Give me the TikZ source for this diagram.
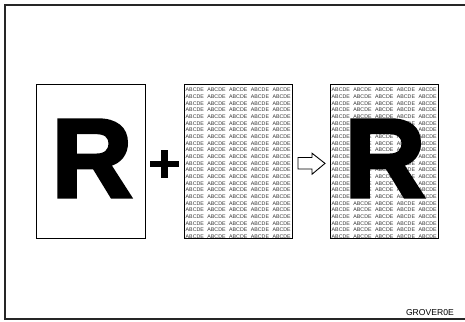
\documentclass[tikz,border=0pt]{standalone}
\usepackage{fontspec}
\setmainfont{Liberation Sans}
\newfontface\heavyR{Liberation Sans Bold}[RawFeature={embolden=3}]
\begin{document}
\begin{tikzpicture}[x=1pt,y=-1pt,
  frame/.style={line width=1.3pt,draw=black!85},
  page/.style={draw=black,line width=0.9pt},
  word/.style={anchor=west,inner sep=0pt,font=\fontsize{5.3}{5.3}\selectfont,text=black!80},
  bigR/.style={anchor=base,inner sep=0pt,font=\fontsize{112}{112}\heavyR},
  hollow/.style={draw=black,line width=0.9pt,fill=white}]
\useasboundingbox (0,0) rectangle (465,321);
\fill[white] (0,0) rectangle (465,321);
% outer frame
\draw[frame] (466,5) -- (5,5) -- (5,319) -- (466,319);
% left page with R
\node[page,minimum width=109pt,minimum height=154pt,anchor=north west,inner sep=0pt] (pageA) at (36,84) {};
\node[bigR] (RA) at (92,197) {R};
% plus sign
\fill (150,160.5) rectangle (179,167);
\fill (161,150) rectangle (167.5,178);
\coordinate (plus) at (164.3,163.8);
% middle page with text
\begin{scope}
\clip (184,84) rectangle (292,238);
\foreach \r in {0,...,22}{
  \foreach \c in {0,...,4}{
    \node[word] (wb-\r-\c) at (185.5+21.7*\c,90+6.67*\r) {ABCDE};
  }
}
\end{scope}
\node[page,minimum width=108pt,minimum height=154pt,anchor=north west,inner sep=0pt] (pageB) at (184,84) {};
% hollow arrow
\draw[hollow] (298,157.5) -- (312,157.5) -- (312,153.2) -- (325,163.4) -- (312,174.2) -- (312,169) -- (298,169) -- cycle;
% right page: text with R on top
\begin{scope}
\clip (330,84) rectangle (438,238);
\foreach \r in {0,...,22}{
  \foreach \c in {0,...,4}{
    \node[word] (wc-\r-\c) at (331.5+21.7*\c,90+6.67*\r) {ABCDE};
  }
}
\end{scope}
\node[bigR] (RC) at (385,197) {R};
\node[page,minimum width=108pt,minimum height=154pt,anchor=north west,inner sep=0pt] (pageC) at (330,84) {};
% code
\node[anchor=base east,inner sep=0pt,font=\fontsize{8.6}{8.6}\selectfont] (code) at (454,315) {GROVER0E};
\end{tikzpicture}
\end{document}
